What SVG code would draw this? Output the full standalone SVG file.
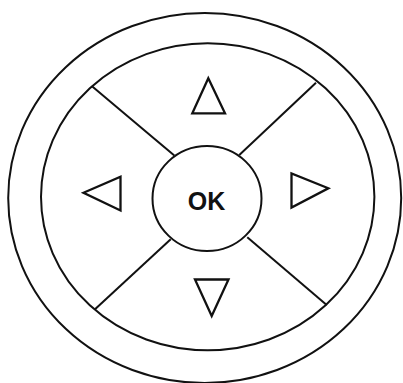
<svg xmlns="http://www.w3.org/2000/svg" width="403" height="383" viewBox="0 0 403 383">
<style>
.s{fill:none;stroke:#111;stroke-width:2}
.t{fill:#fff;stroke:#111;stroke-width:2.3;stroke-linejoin:miter}
.lbl{font-family:"Liberation Sans",Arial,sans-serif;font-weight:bold;font-size:25px;fill:#111;text-anchor:middle}
</style>
<rect width="403" height="383" fill="#fff"/>
<g id="outer-ring"><ellipse class="s" cx="204.7" cy="198" rx="196.5" ry="185"/></g>
<g id="inner-ring"><ellipse class="s" cx="207.7" cy="196.8" rx="166.7" ry="153.5"/></g>
<g id="connectors">
<line class="s" x1="91.7" y1="86" x2="174.3" y2="155.5"/>
<line class="s" x1="316" y1="82.7" x2="239.3" y2="155"/>
<line class="s" x1="95" y1="309.3" x2="170.7" y2="239.3"/>
<line class="s" x1="326.7" y1="305" x2="247.3" y2="237.3"/>
</g>
<g id="ok"><ellipse class="s" cx="207" cy="198.5" rx="54.5" ry="52.5"/><text class="lbl" x="206.5" y="209.5">OK</text></g>
<g id="up"><polygon class="t" points="208.3,78.3 225,113.3 192.3,113.3"/></g>
<g id="down"><polygon class="t" points="211.7,316 228.5,279.5 195,279.5"/></g>
<g id="left"><polygon class="t" points="83.5,192.7 120.5,176.7 120.5,210.5"/></g>
<g id="right"><polygon class="t" points="328.3,188.3 291.5,173.5 291.5,207.5"/></g>
</svg>
